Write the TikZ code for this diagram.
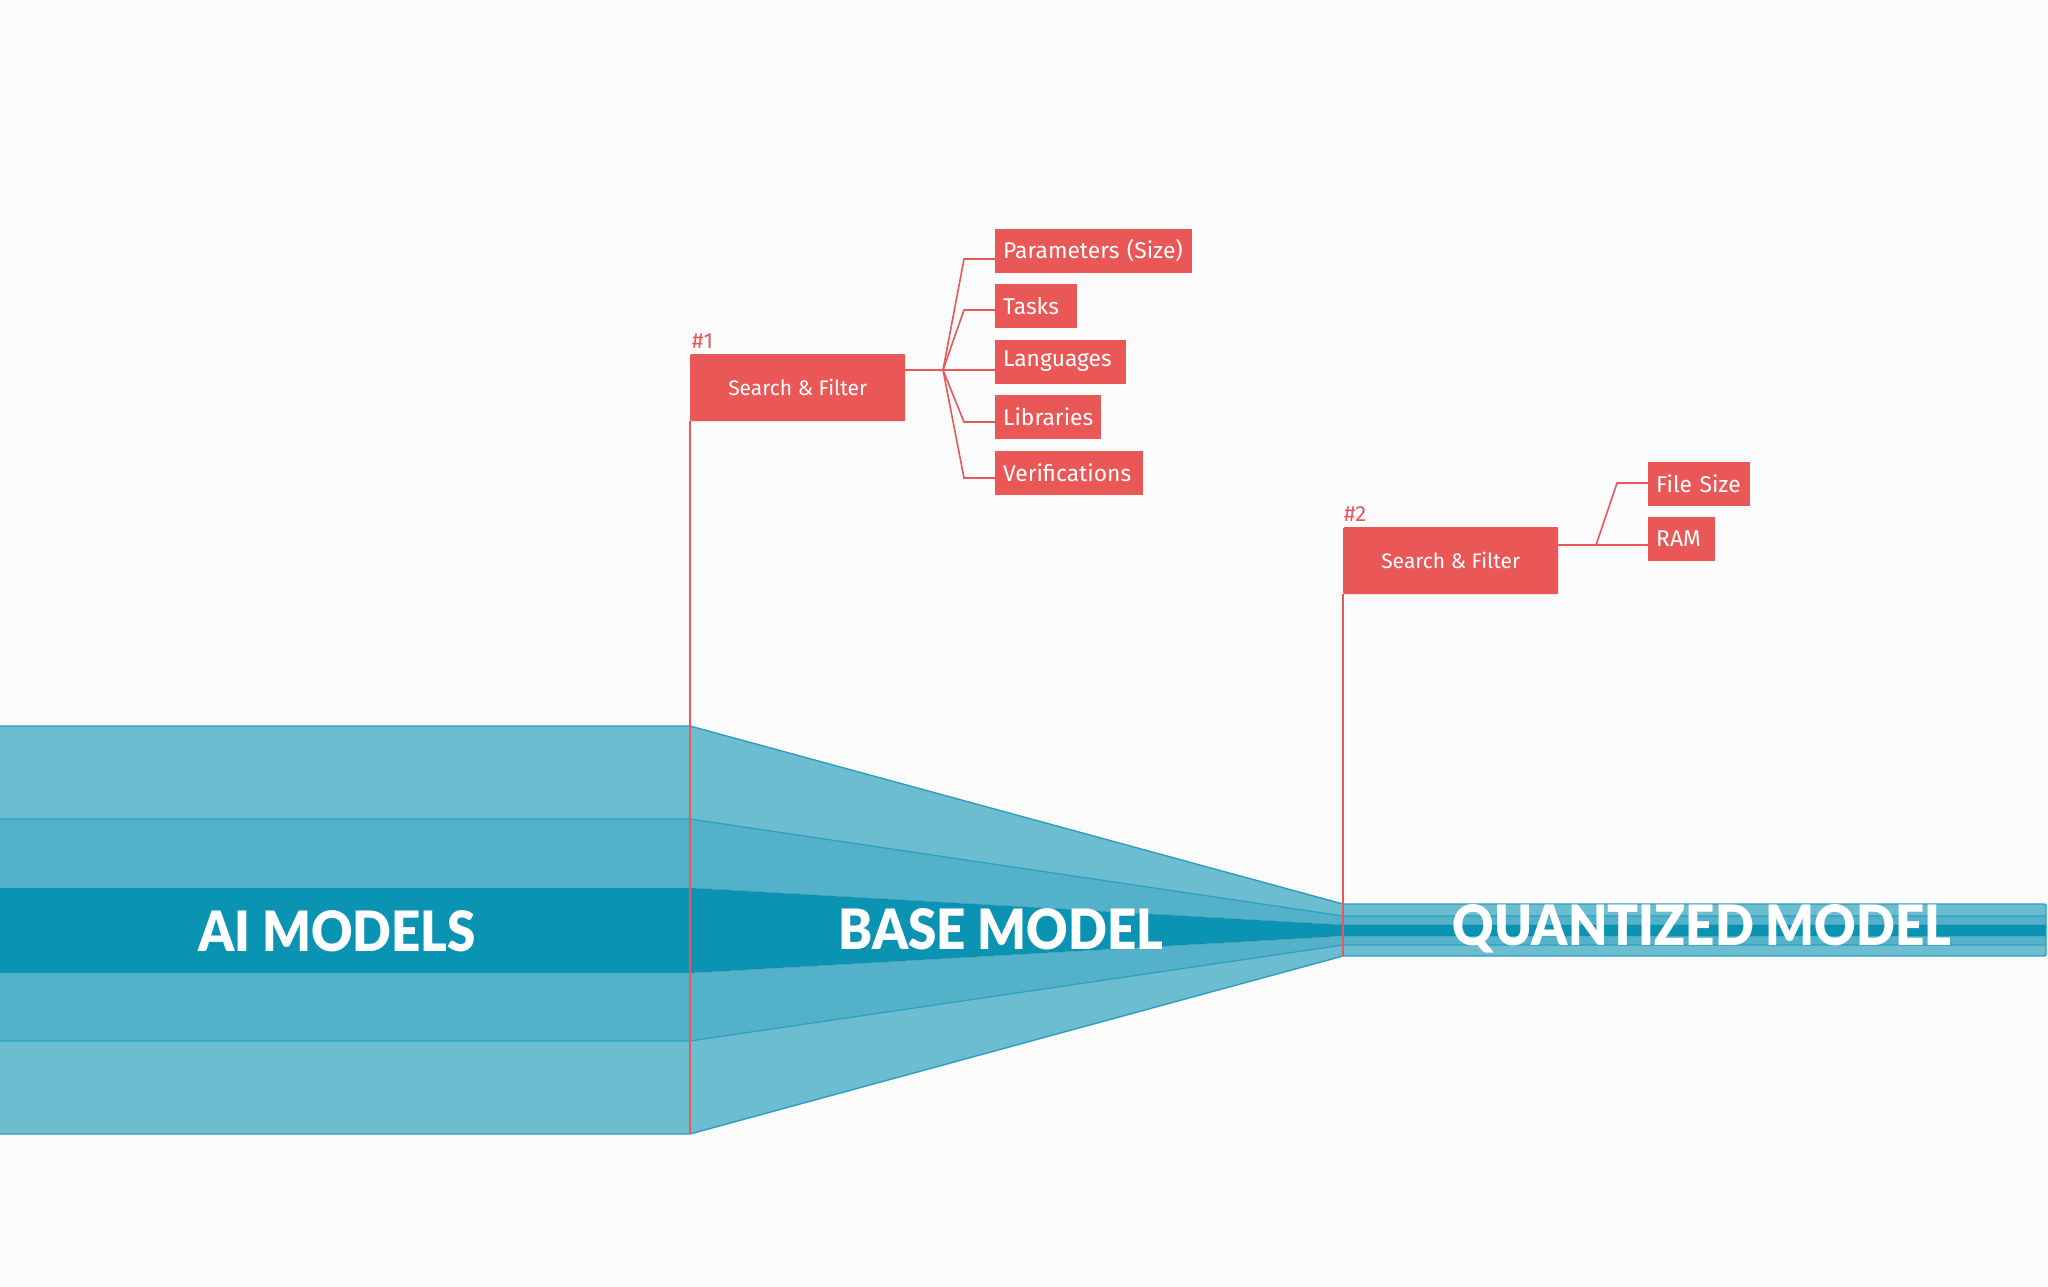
\documentclass[tikz,border=0pt]{standalone}
\usepackage{fontspec}
\setmainfont{Fira Sans}
\newfontfamily\heavy{Lato Black}
\definecolor{bg}{HTML}{FBFBFB}
\definecolor{tlight}{HTML}{6CBDD0}
\definecolor{tmid}{HTML}{53B2C9}
\definecolor{tdark}{HTML}{0B93B3}
\definecolor{tedge}{HTML}{2A9FC0}
\definecolor{rd}{HTML}{E95757}
\newcommand{\narrowtxt}[1]{\scalebox{0.945}[1.03]{#1}}
\tikzset{
  mainbox/.style={fill=rd, text=white, anchor=north west, minimum width=215pt, minimum height=67pt, inner sep=0pt, font=\fontsize{21}{24}\selectfont, rounded corners=1pt},
  childbox/.style={fill=rd, text=white, anchor=west, minimum height=44pt, inner xsep=8pt, inner ysep=0pt, text width=#1-16pt, align=left, font=\fontsize{22.8}{26}\selectfont},
  redline/.style={draw=rd, line width=1.6pt},
  tag/.style={text=rd, anchor=south west, inner sep=0pt, font=\fontsize{22}{24}\selectfont},
  bigtxt/.style={text=white, font=\heavy\fontsize{54}{60}\selectfont, inner sep=0pt},
  edgeline/.style={draw=tedge, line width=1.4pt}
}
\begin{document}
\begin{tikzpicture}[x=1pt,y=-1pt]
\path[fill=bg] (0,0) rectangle (2048,1287);
\useasboundingbox (0,0) rectangle (2048,1287);
% funnel stripes
\fill[tlight] (0,726) -- (690,726) -- (1343,904) -- (2046,904) -- (2046,916) -- (1343,916) -- (690,819) -- (0,819) -- cycle;
\fill[tmid] (0,819) -- (690,819) -- (1343,916) -- (2046,916) -- (2046,925) -- (1343,925) -- (690,888) -- (0,888) -- cycle;
\fill[tdark] (0,888) -- (690,888) -- (1343,925) -- (2046,925) -- (2046,936) -- (1343,936) -- (690,973) -- (0,973) -- cycle;
\fill[tmid] (0,973) -- (690,973) -- (1343,936) -- (2046,936) -- (2046,945) -- (1343,945) -- (690,1041) -- (0,1041) -- cycle;
\fill[tlight] (0,1041) -- (690,1041) -- (1343,945) -- (2046,945) -- (2046,956) -- (1343,956) -- (690,1134) -- (0,1134) -- cycle;
\draw[edgeline] (0,726) -- (690,726) -- (1343,904) -- (2044,904) to[out=0,in=90] (2046,906) -- (2046,954) to[out=-90,in=0] (2044,956) -- (1343,956) -- (690,1134) -- (0,1134);
\draw[edgeline, line width=1.2pt] (0,819) -- (690,819) -- (1343,916) -- (2046,916);
\draw[edgeline, line width=1.2pt] (0,1041) -- (690,1041) -- (1343,945) -- (2046,945);
\draw[draw=tdark!80!black, line width=0.6pt, opacity=0.4] (690,888) -- (1343,925) -- (2046,925);
\draw[draw=tdark!80!black, line width=0.6pt, opacity=0.4] (690,973) -- (1343,936) -- (2046,936);
% big labels
\node[bigtxt] (ai) at (337,931) {\narrowtxt{AI MODELS}};
\node[bigtxt] (base) at (1001,929) {\narrowtxt{BASE MODEL}};
\node[bigtxt] (quant) at (1702,929) {\narrowtxt{QUANTIZED MODEL}};
% search box 1
\node[mainbox] (sf1) at (690,354) {Search \& Filter};
\node[tag] (t1) at (692,349) {\#1};
\coordinate (b1) at (690,1134);
\draw[redline] (sf1.south west) -- (b1);
\node[childbox=197pt] (c1) at (995,250.5) {Parameters (Size)};
\node[childbox=82pt] (c2) at (995,306) {Tasks};
\node[childbox=131pt] (c3) at (995,361.5) {Languages};
\node[childbox=106pt] (c4) at (995,417) {Libraries};
\node[childbox=148pt] (c5) at (995,473) {Verifications};
\coordinate (f1) at (943,370);
\draw[redline] (sf1.north east |- f1) -- (f1);
\draw[redline] (f1) -- (964,259) -- (c1.west |- 0,259);
\draw[redline] (f1) -- (964,310) -- (c2.west |- 0,310);
\draw[redline] (f1) -- (c3.west |- f1);
\draw[redline] (f1) -- (964,422) -- (c4.west |- 0,422);
\draw[redline] (f1) -- (964,478) -- (c5.west |- 0,478);
% search box 2
\node[mainbox] (sf2) at (1343,527) {Search \& Filter};
\node[tag] (t2) at (1344,522) {\#2};
\coordinate (b2) at (1343,956);
\draw[redline] (sf2.south west) -- (b2);
\node[childbox=102pt] (d1) at (1648,483.5) {File Size};
\node[childbox=67pt] (d2) at (1648,539) {RAM};
\coordinate (f2) at (1596,545);
\draw[redline] (sf2.north east |- f2) -- (f2);
\draw[redline] (f2) -- (1617,483) -- (d1.west |- 0,483);
\draw[redline] (f2) -- (d2.west |- f2);
\end{tikzpicture}
\end{document}
